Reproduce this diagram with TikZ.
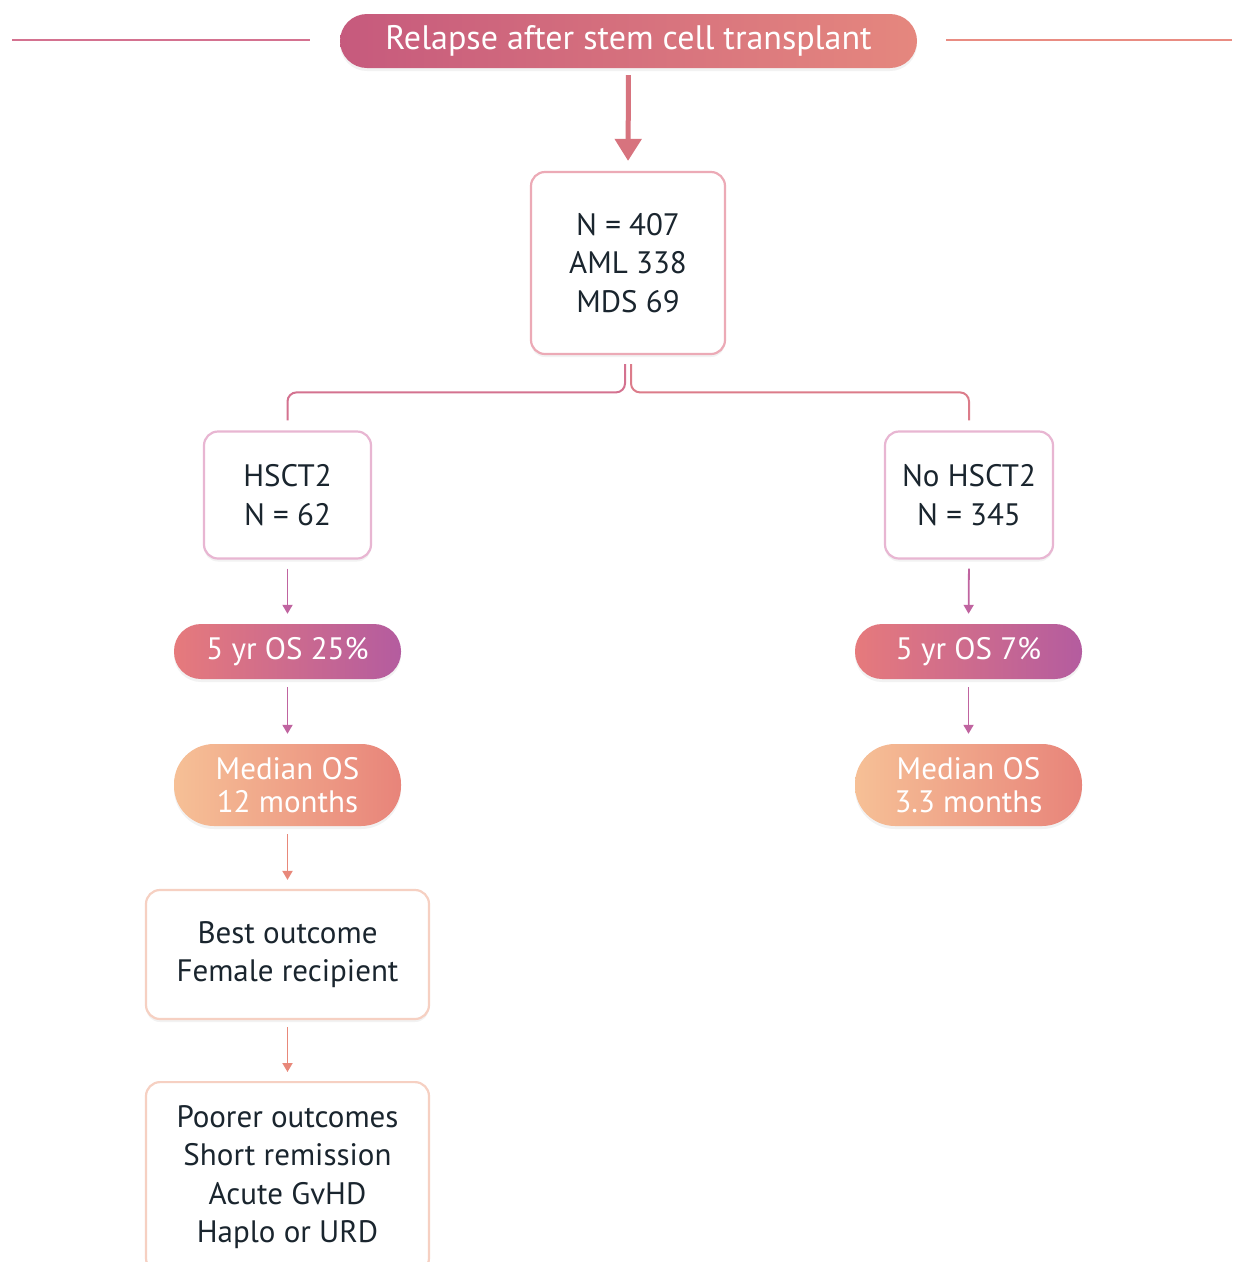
\documentclass[tikz,border=0pt]{standalone}
\usepackage{fontspec}
\setmainfont{PT Sans}
\usetikzlibrary{arrows.meta,shadows}
\definecolor{txt}{HTML}{1A252E}
\definecolor{tA}{HTML}{C65A7D}
\definecolor{tM}{HTML}{DB8C98}
\definecolor{tB}{HTML}{E5877E}
\definecolor{oA}{HTML}{E67A7C}
\definecolor{oM}{HTML}{D88AA0}
\definecolor{oB}{HTML}{B45C9F}
\definecolor{mA}{HTML}{F6C096}
\definecolor{mM}{HTML}{F0A48C}
\definecolor{mB}{HTML}{E8847A}
\definecolor{bPink}{HTML}{ECAAB6}
\definecolor{bLilac}{HTML}{E8B6D2}
\definecolor{bPeach}{HTML}{F6D0C2}
\definecolor{lPink}{HTML}{D47290}
\definecolor{lSalm}{HTML}{E98C82}
\definecolor{aPurp}{HTML}{C064A0}
\definecolor{aOr}{HTML}{E8887A}
\tikzset{
  x=1pt, y=-1pt,
  softshadow/.style={drop shadow={opacity=0.10, shadow xshift=0pt, shadow yshift=-3pt}},
  box/.style={draw, line width=2.2pt, fill=white, rounded corners=14pt, align=center,
    text=txt, font=\fontsize{31}{38.5}\selectfont, inner sep=0pt, softshadow},
  pill/.style={rounded corners=27pt, align=center, text=white, inner sep=0pt,
    font=\fontsize{31}{33}\selectfont, softshadow},
  smallarr/.style={line width=1.8pt, -{Triangle[width=10pt,length=9pt]}},
}
\begin{document}
\begin{tikzpicture}
\clip (0,0) rectangle (1234,1262);
\fill[white] (0,0) rectangle (1234,1262);

% title
\node[pill, minimum width=577pt, minimum height=54pt, left color=tA, middle color=tM, right color=tB,
  font=\fontsize{34}{36}\selectfont] (title) at (628.5,41) {Relapse after stem cell transplant};
\coordinate (lt1) at (12,40);
\coordinate (lt2) at (310,40);
\coordinate (rt1) at (946,40);
\coordinate (rt2) at (1232,40);
\draw[lPink, line width=2pt] (lt1) -- (lt2);
\draw[lSalm, line width=2pt] (rt1) -- (rt2);

% central box
\node[box, draw=bPink, minimum width=194pt, minimum height=182pt] (all) at (628,263) {N = 407\\AML 338\\MDS 69};
\draw[line width=5pt, draw=tA!45!tB, -{Triangle[width=26pt,length=22pt]}, shorten <=7pt, shorten >=10pt]
  (title.south) -- (all.north);

% branches
\node[box, draw=bLilac, minimum width=167pt, minimum height=127pt] (h) at (287.5,495) {HSCT2\\N = 62};
\node[box, draw=bLilac, minimum width=168pt, minimum height=127pt] (nh) at (969,495) {No HSCT2\\N = 345};

\draw[lPink, line width=2pt, rounded corners=9pt]
  ([xshift=-3pt,yshift=-9pt]all.south) |- ([yshift=38pt]h.north) -- ([yshift=10pt]h.north);
\draw[lPink!60!lSalm, line width=2pt, rounded corners=9pt]
  ([xshift=3pt,yshift=-9pt]all.south) |- ([yshift=38pt]nh.north) -- ([yshift=10pt]nh.north);

% left column
\node[pill, minimum width=227pt, minimum height=55pt, left color=oA, middle color=oM, right color=oB] (h5) at (287.5,651.5) {5 yr OS 25\%};
\node[pill, rounded corners=40pt, minimum width=227pt, minimum height=82pt, left color=mA, middle color=mM, right color=mB] (hm) at (287.5,785) {Median OS\\12 months};
\node[box, draw=bPeach, minimum width=283pt, minimum height=129pt] (best) at (287.5,954.5) {Best outcome\\Female recipient};
\node[box, draw=bPeach, minimum width=283pt, minimum height=190pt, anchor=north] (poor) at (287.5,1081) {Poorer outcomes\\Short remission\\Acute GvHD\\Haplo or URD};

\draw[smallarr, aPurp, shorten <=9pt, shorten >=10pt] (h.south) -- (h5.north);
\draw[smallarr, aPurp, shorten <=8pt, shorten >=10pt] (h5.south) -- (hm.north);
\draw[smallarr, aOr, shorten <=8pt, shorten >=9pt] (hm.south) -- (best.north);
\draw[smallarr, aOr, shorten <=7pt, shorten >=9pt] (best.south) -- (poor.north);

% right column
\node[pill, minimum width=227pt, minimum height=55pt, left color=oA, middle color=oM, right color=oB] (n5) at (968.5,651.5) {5 yr OS 7\%};
\node[pill, rounded corners=40pt, minimum width=227pt, minimum height=82pt, left color=mA, middle color=mM, right color=mB] (nm) at (968.5,785) {Median OS\\3.3 months};

\draw[smallarr, aPurp, shorten <=9pt, shorten >=10pt] (nh.south) -- (n5.north);
\draw[smallarr, aPurp, shorten <=8pt, shorten >=10pt] (n5.south) -- (nm.north);
\end{tikzpicture}
\end{document}
